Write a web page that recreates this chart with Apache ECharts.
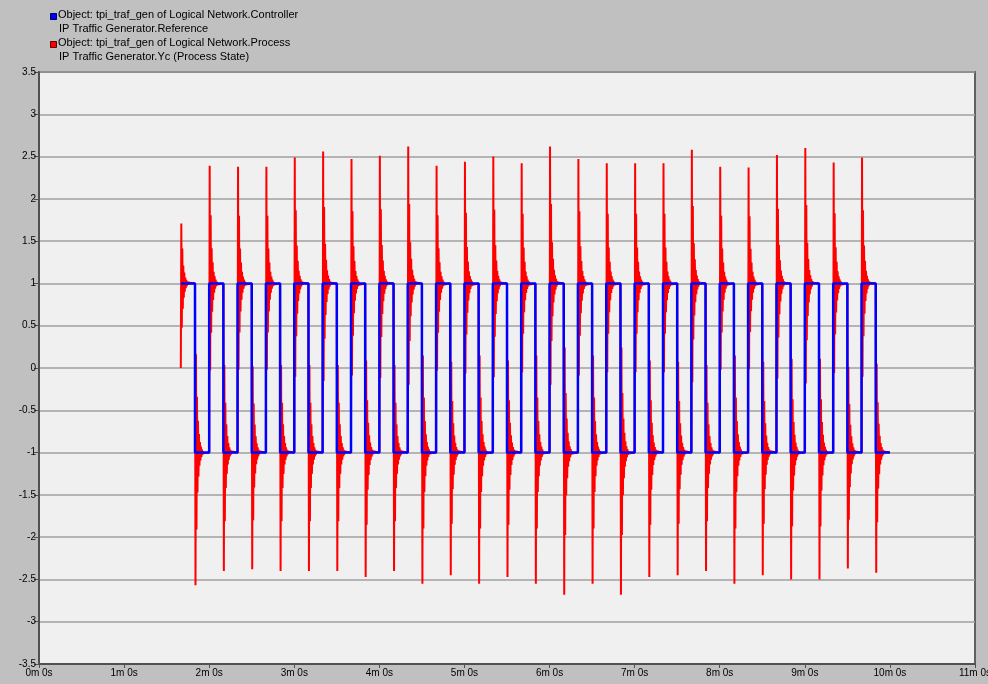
<!DOCTYPE html>
<html>
<head>
<meta charset="utf-8">
<script src="https://cdn.jsdelivr.net/npm/echarts@6/dist/echarts.min.js"></script>
<style>
  html, body { margin: 0; padding: 0; background: #c0c0c0; overflow: hidden; }
  #chart { width: 988px; height: 684px; }
</style>
</head>
<body>
<div id="chart"></div>
<script>
// ---- data ----
const legendLines1 = ['Object: tpi_traf_gen of Logical Network.Controller', 'IP Traffic Generator.Reference'];
const legendLines2 = ['Object: tpi_traf_gen of Logical Network.Process', 'IP Traffic Generator.Yc (Process State)'];

const xTickLabels = ['0m 0s','1m 0s','2m 0s','3m 0s','4m 0s','5m 0s','6m 0s','7m 0s','8m 0s','9m 0s','10m 0s','11m 0s'];

// reference steps (seconds)
const riseTimes = [100,120,140,160,180,200,220,240,260,280,300,320,340,360,380,400,420,440,460,480,500,520,540,560,580];
const fallTimes = [110,130,150,170,190,210,230,250,270,290,310,330,350,370,390,410,430,450,470,490,510,530,550,570,590];
const endTime = 600;
const initialValue = 0;

// process-state peak values at each step
const risePeaks = [1.71,2.39,2.38,2.38,2.49,2.56,2.47,2.51,2.62,2.39,2.44,2.50,2.42,2.62,2.47,2.42,2.42,2.42,2.58,2.38,2.37,2.52,2.60,2.43,2.49];
const fallPeaks = [-2.57,-2.40,-2.38,-2.40,-2.40,-2.40,-2.47,-2.40,-2.55,-2.45,-2.55,-2.47,-2.55,-2.68,-2.55,-2.68,-2.47,-2.45,-2.40,-2.55,-2.45,-2.50,-2.50,-2.37,-2.42];

// ringing after each step, relative to the first overshoot (read from one transient)
const ringShape = [1, -0.74, 0.58, -0.42, 0.30, -0.24, 0.18, -0.14, 0.10, -0.08, 0.06, -0.045, 0.033, -0.024, 0.016, -0.01, 0.006, 0];
const sampleStep = 0.35; // seconds between process samples

// ---- build series ----
const events = [];
riseTimes.forEach((t, i) => events.push({ t: t, level: 1, peak: risePeaks[i] }));
fallTimes.forEach((t, i) => events.push({ t: t, level: -1, peak: fallPeaks[i] }));
events.sort((a, b) => a.t - b.t);

const refData = [];
const procData = [];
let prevRef = null;
let prevProc = initialValue;
events.forEach(ev => {
  if (prevRef !== null) refData.push([ev.t, prevRef]);
  refData.push([ev.t, ev.level]);
  prevRef = ev.level;

  procData.push([ev.t, prevProc]);
  ringShape.forEach((s, k) => {
    procData.push([ev.t + sampleStep * (k + 1), ev.level + (ev.peak - ev.level) * s]);
  });
  prevProc = ev.level;
});
refData.push([endTime, prevRef]);
procData.push([endTime, prevProc]);

// ---- chart ----
const chart = echarts.init(document.getElementById('chart'));
const font = 'Liberation Sans, Arial, sans-serif';

function legendItem(y, color, stroke, lines) {
  return [
    { type: 'rect', left: 50, top: y - 3, shape: { width: 6, height: 6 }, style: { fill: color, stroke: stroke, lineWidth: 1 } },
    { type: 'text', left: 58, top: y - 7, style: { text: lines[0], fill: '#000', font: '11px ' + font } },
    { type: 'text', left: 59, top: y + 7, style: { text: lines[1], fill: '#000', font: '11px ' + font } }
  ];
}

chart.setOption({
  animation: false,
  backgroundColor: '#c0c0c0',
  grid: {
    left: 39, right: 13, top: 72, bottom: 20,
    outerBoundsMode: 'none', containLabel: false,
    show: true, backgroundColor: '#f0f0f0', borderColor: '#606060', borderWidth: 2
  },
  graphic: [].concat(
    legendItem(16, '#0000ff', '#000060', legendLines1),
    legendItem(44, '#ff0000', '#600000', legendLines2)
  ),
  xAxis: {
    type: 'value', min: 0, max: 660, interval: 60,
    axisLine: { show: true, onZero: false, lineStyle: { color: '#505050', width: 2 } },
    axisTick: { show: true, length: 4, lineStyle: { color: '#505050' } },
    axisLabel: {
      color: '#000', fontSize: 10, fontFamily: font, margin: 4,
      formatter: v => xTickLabels[Math.round(v / 60)]
    },
    splitLine: { show: false }
  },
  yAxis: {
    type: 'value', min: -3.5, max: 3.5, interval: 0.5,
    axisLine: { show: true, lineStyle: { color: '#505050', width: 2 } },
    axisTick: { show: true, length: 5, lineStyle: { color: '#505050' } },
    axisLabel: { color: '#000', fontSize: 10, fontFamily: font, margin: 3 },
    splitLine: { show: true, lineStyle: { color: '#a0a0a0', width: 1.5 } }
  },
  series: [
    {
      name: 'Process', type: 'line', data: procData, showSymbol: false,
      lineStyle: { color: '#ff0000', width: 2 }, z: 2
    },
    {
      name: 'Reference', type: 'line', data: refData, showSymbol: false,
      lineStyle: { color: '#0000ff', width: 2.5 }, z: 3
    }
  ]
});
</script>
</body>
</html>
